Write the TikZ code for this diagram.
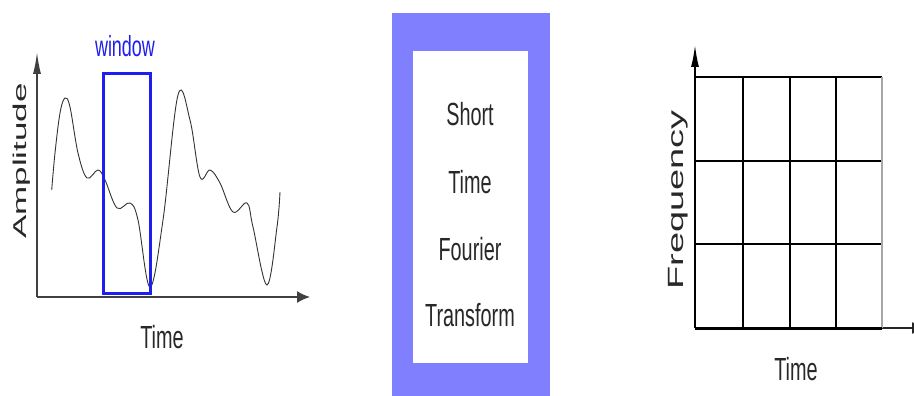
\documentclass[tikz,border=0pt]{standalone}
\usepackage{fontspec}
\usepackage{graphicx}
\setmainfont{Liberation Sans}
\newfontfamily\narrowfont[FakeStretch=0.62]{Liberation Sans}
\usetikzlibrary{arrows.meta}
\definecolor{winblue}{RGB}{30,30,240}
\definecolor{boxpurple}{RGB}{128,128,255}
\definecolor{txtgray}{RGB}{40,40,40}
\begin{document}
\begin{tikzpicture}[x=1pt,y=-1pt,
  axis/.style={draw=black!75,line width=1.6pt},
  vtip/.style={-{Latex[length=22pt,width=8pt]}},
  htip/.style={-{Latex[length=13pt,width=12pt]}},
  gridline/.style={draw=black,line width=1.6pt},
  lbl/.style={inner sep=0pt,anchor=base,text=txtgray,font=\narrowfont\fontsize{32}{36}\selectfont},
  rotlbl/.style={inner sep=0pt,anchor=base,rotate=90,text=txtgray}]
\useasboundingbox (0,0) rectangle (914,396);
\clip (0,0) rectangle (914,396);
\fill[white] (0,0) rectangle (914,396);

% ---------- left plot ----------
\coordinate (lo) at (37,297);
\coordinate (ly) at (37,52);
\coordinate (lx) at (310,297);
\draw[axis,vtip] (lo) -- (ly);
\draw[axis,htip] (lo) -- (lx);
\draw[black!80,line width=0.9pt] plot[smooth,tension=0.6] coordinates {
 (51.7,190) (55,153) (60,113) (65,98) (70,107) (78,153) (87,178) (98,170)
 (105,180) (117,208) (130,203) (138,220) (150,287) (163,220) (178,95)
 (190,120) (200,177) (210,170) (220,183) (233,212) (247,203) (253,227)
 (267,285) (277,227) (280,192)};
\node[draw=winblue,line width=3pt,minimum width=47pt,minimum height=219pt,inner sep=0pt] (win) at (126.5,183.5) {};
\node[lbl,text=winblue,font=\narrowfont\fontsize{29}{32}\selectfont] (winlbl) at (125,57) {window};
\node[lbl] (ltime) at (162,348) {Time};
\node[rotlbl] (amp) at (26,161) {\scalebox{1}[0.53]{\fontsize{35}{40}\selectfont Amplitude}};

% ---------- middle box ----------
\fill[boxpurple] (392,13) rectangle (550,400);
\fill[white] (413,51) rectangle (528,363);
\node[lbl] (s1) at (470,125) {Short};
\node[lbl] (s2) at (470,193) {Time};
\node[lbl] (s3) at (470,260) {Fourier};
\node[lbl] (s4) at (470,326) {Transform};

% ---------- right plot ----------
\coordinate (ro) at (695,328);
\coordinate (ry) at (695,45);
\coordinate (rx) at (925,328);
\draw[black!85,line width=1.2pt,htip] (ro) -- (rx);
\draw[black,line width=1.6pt,vtip] (ro) -- (ry);
\foreach \x in {743,790,836} \draw[gridline] (\x,77) -- (\x,328);
\foreach \y in {77,161,244} \draw[gridline] (695,\y) -- (882,\y);
\draw[draw=black!35,line width=1.6pt] (882,77) -- (882,328);
\draw[black,line width=3pt] (695,328) -- (882,328);
\node[lbl] (rtime) at (796,380) {Time};
\node[rotlbl] (freq) at (683,200) {\scalebox{1}[0.58]{\fontsize{38}{42}\selectfont Frequency}};
\end{tikzpicture}
\end{document}
